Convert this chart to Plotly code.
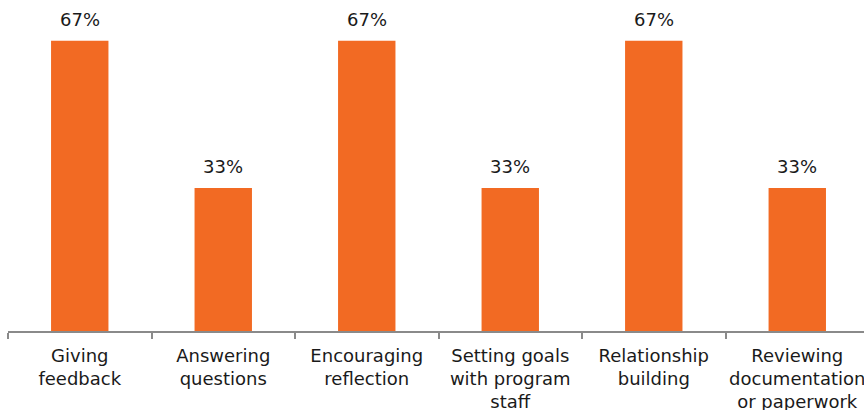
import plotly.graph_objects as go

categories = [
    "Giving<br>feedback",
    "Answering<br>questions",
    "Encouraging<br>reflection",
    "Setting goals<br>with program<br>staff",
    "Relationship<br>building",
    "Reviewing<br>documentation<br>or paperwork",
]
values = [67, 33, 67, 33, 67, 33]
value_labels = [f"{v}%" for v in values]

fig = go.Figure(
    go.Bar(
        x=categories,
        y=values,
        marker=dict(color="#F26A23", line=dict(width=0)),
        width=0.4,
        hoverinfo="skip",
    )
)

# value labels above each bar
for cat, v, lab in zip(categories, values, value_labels):
    fig.add_annotation(
        x=cat,
        y=v,
        text=lab,
        showarrow=False,
        yanchor="bottom",
        yshift=9,
        font=dict(family="DejaVu Sans", size=18, color="#1a1a1a"),
    )

fig.update_layout(
    width=864,
    height=410,
    margin=dict(l=8, r=0, t=0, b=79),
    plot_bgcolor="white",
    paper_bgcolor="white",
    showlegend=False,
    font=dict(family="DejaVu Sans", size=18, color="#1a1a1a"),
)

fig.update_xaxes(
    range=[-0.5, 5.465],
    showline=True,
    linecolor="#8a8a8a",
    linewidth=2,
    ticks="outside",
    tickson="boundaries",
    ticklen=6,
    tickwidth=2,
    tickcolor="#8a8a8a",
    ticklabelstandoff=7,
    showgrid=False,
    tickfont=dict(family="DejaVu Sans", size=18, color="#1a1a1a"),
    automargin=False,
)
fig.update_yaxes(
    range=[0, 76.4],
    visible=False,
    showgrid=False,
)

fig.write_html("out.html")
